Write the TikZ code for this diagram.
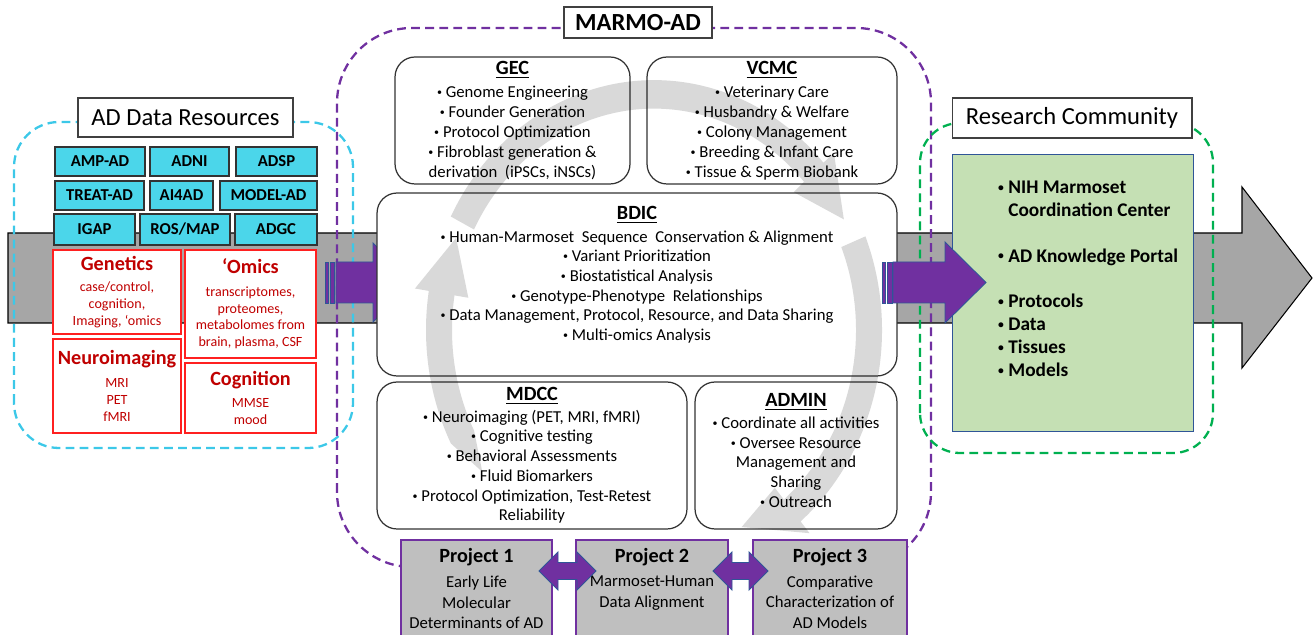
\documentclass[tikz,border=0pt]{standalone}
\usepackage{fontspec}
\usepackage{graphicx}
\setmainfont{Carlito}
\usetikzlibrary{positioning}
\definecolor{bandgray}{HTML}{A6A6A6}
\definecolor{cyclegray}{HTML}{D9D9D9}
\definecolor{adcyan}{HTML}{4BD6EA}
\definecolor{dashcyan}{HTML}{3CC8E8}
\definecolor{adred}{HTML}{FF2020}
\definecolor{txtred}{HTML}{C00000}
\definecolor{marmopurple}{HTML}{7030A0}
\definecolor{arrowblue}{HTML}{2F5597}
\definecolor{dashgreen}{HTML}{00B050}
\definecolor{portalgreen}{HTML}{C5E0B4}
\definecolor{projgray}{HTML}{BFBFBF}

\newcommand{\itm}{\raisebox{0.12em}{\scalebox{0.6}{\textbullet}}\ }
% one arrow of the gray cycle: start angle, head base, tip angle, tip radius
\newcommand{\cyclearc}[4]{%
  \fill[cyclegray] (#1:228) arc[start angle=#1, end angle=#2, radius=228]
    -- (#2:242) -- (#3:#4) -- (#2:188) -- (#2:202)
    arc[start angle=#2, end angle=#1, radius=202] -- cycle;}

\begin{document}
\begin{tikzpicture}[x=0.02cm,y=0.02cm,
    titlebox/.style={draw=black!75, fill=white, line width=0.6pt, inner sep=0pt, font=\fontsize{14}{16}\selectfont},
    resbox/.style={draw=black!80, fill=adcyan, line width=0.6pt, inner sep=0pt, font=\fontsize{9.5}{11}\selectfont\bfseries},
    databox/.style={draw=adred, fill=white, line width=1.1pt, inner sep=0pt, align=center, text=txtred, font=\fontsize{8}{9.6}\selectfont},
    panel/.style={draw=black!80, fill=white, line width=0.7pt, rounded corners=0.4cm, inner sep=0pt, align=center, font=\fontsize{9.5}{11.4}\selectfont},
    project/.style={draw=marmopurple, fill=projgray, line width=0.8pt, inner sep=0pt},
    group/.style={line width=1.3pt, dash pattern=on 5pt off 3pt},
    purplearrow/.style={fill=marmopurple, draw=arrowblue, line width=0.5pt},
  ]
    \useasboundingbox (0,0) rectangle (1314,635);

    % gray flow band
    \filldraw[fill=bandgray, draw=black, line width=0.6pt] (8,312) -- (1242,312) -- (1242,267) -- (1312,357)
      -- (1242,448) -- (1242,402) -- (8,402) -- cycle;

    % dashed groups
    \draw[group, dashcyan, rounded corners=0.9cm] (14,187) rectangle (353,513);
    \draw[group, marmopurple, rounded corners=1.5cm] (337,68) rectangle (931,607);
    \draw[group, dashgreen, rounded corners=0.8cm] (920,182) rectangle (1213,512);

    % AD data resources
    \node[titlebox, minimum width=4.3cm, minimum height=0.78cm] (adres) at (185.5,517.5) {AD Data Resources};
    \node[resbox, minimum width=1.8cm, minimum height=0.58cm] (ampad) at (100,473.5) {AMP-AD};
    \node[resbox, minimum width=1.58cm, minimum height=0.58cm] (adni) at (189.5,473.5) {ADNI};
    \node[resbox, minimum width=1.62cm, minimum height=0.58cm] (adsp) at (276.5,473.5) {ADSP};
    \node[resbox, minimum width=1.78cm, minimum height=0.58cm] (treatad) at (99.5,439.5) {TREAT-AD};
    \node[resbox, minimum width=1.26cm, minimum height=0.58cm] (aifourad) at (181.5,439.5) {AI4AD};
    \node[resbox, minimum width=1.94cm, minimum height=0.58cm] (modelad) at (268.5,439.5) {MODEL-AD};
    \node[resbox, minimum width=1.62cm, minimum height=0.62cm] (igap) at (94.5,405.5) {IGAP};
    \node[resbox, minimum width=1.8cm, minimum height=0.62cm] (rosmap) at (185,405.5) {ROS/MAP};
    \node[resbox, minimum width=1.64cm, minimum height=0.62cm] (adgc) at (276,405.5) {ADGC};

    \node[databox, minimum width=2.56cm, minimum height=1.68cm] (genetics) at (117,343)
      {{\fontsize{11.5}{13}\selectfont\bfseries Genetics}\\[2.6pt]case/control,\\cognition,\\Imaging, ‘omics};
    \node[databox, minimum width=2.62cm, minimum height=2.16cm] (omics) at (250.5,331)
      {{\fontsize{11.5}{13}\selectfont\bfseries ‘Omics}\\[3.2pt]transcriptomes,\\proteomes,\\metabolomes from\\brain, plasma, CSF};
    \node[databox, minimum width=2.56cm, minimum height=1.88cm] (neuro) at (117,249)
      {{\fontsize{11.5}{13}\selectfont\bfseries Neuroimaging}\\[3.2pt]MRI\\PET\\fMRI};
    \node[databox, minimum width=2.62cm, minimum height=1.4cm] (cognition) at (250.5,237)
      {{\fontsize{11.5}{13}\selectfont\bfseries Cognition}\\[2.6pt]MMSE\\mood};

    % striped arrows into and out of MARMO-AD
    \filldraw[purplearrow] (325,332) rectangle (328,373);
    \filldraw[purplearrow] (330,332) rectangle (334,373);
    \filldraw[purplearrow] (336,332) -- (373,332) -- (373,313) -- (413,352.5) -- (373,392) -- (373,373) -- (336,373) -- cycle;

    % MARMO-AD cores
    \node[titlebox, font=\fontsize{14}{16}\selectfont\bfseries, minimum width=2.96cm, minimum height=0.62cm] (marmo) at (638,612.5) {MARMO-AD};
    \node[panel, minimum width=4.7cm, minimum height=2.54cm] (gec) at (512.5,514.5) {};
    \node[panel, minimum width=5cm, minimum height=2.54cm] (vcmc) at (772,514.5) {};
    \node[panel, minimum width=10.4cm, minimum height=3.66cm] (bdic) at (637,350.5) {};
    \node[panel, minimum width=6.2cm, minimum height=2.94cm] (mdcc) at (532,179.5) {};
    \node[panel, minimum width=4.04cm, minimum height=2.94cm] (admin) at (796,179.5) {};

    % gray cycle behind the core texts
    \begin{scope}[shift={(654,305)}, yscale=1.096, blend mode=multiply]
      \fill[cyclegray] (217:215) -- (207:228) arc[start angle=207, end angle=171, radius=228]
        -- (171:242) -- (157:215) -- (171:188) -- (171:202)
        arc[start angle=171, end angle=207, radius=202] -- cycle;
      \cyclearc{153}{42}{28}{215}
      \cyclearc{22}{-50}{-64}{200}
    \end{scope}

    \node[align=center, font=\fontsize{9.5}{11.4}\selectfont] (gectext) at (gec)
      {{\fontsize{11.5}{13}\selectfont\bfseries\underline{GEC}}\\[1.5pt]
       \itm Genome Engineering\\ \itm Founder Generation\\ \itm Protocol Optimization\\
       \itm Fibroblast generation \&\\ derivation~~(iPSCs, iNSCs)};
    \node[align=center, font=\fontsize{9.5}{11.4}\selectfont] (vcmctext) at (vcmc)
      {{\fontsize{11.5}{13}\selectfont\bfseries\underline{VCMC}}\\[1.5pt]
       \itm Veterinary Care\\ \itm Husbandry \& Welfare\\ \itm Colony Management\\
       \itm Breeding \& Infant Care\\ \itm Tissue \& Sperm Biobank};
    \node[anchor=north, align=center, font=\fontsize{9.5}{11.2}\selectfont] (bdictext) at ([yshift=-0.16cm]bdic.north)
      {{\fontsize{11.5}{13}\selectfont\bfseries\underline{BDIC}}\\[1.5pt]
       \itm Human-Marmoset~ Sequence~ Conservation \& Alignment\\
       \itm Variant Prioritization\\ \itm Biostatistical Analysis\\
       \itm Genotype-Phenotype~ Relationships\\
       \itm Data Management, Protocol, Resource, and Data Sharing\\
       \itm Multi-omics Analysis};
    \node[align=center, font=\fontsize{9.5}{11.2}\selectfont] (mdcctext) at (mdcc)
      {{\fontsize{11.5}{13}\selectfont\bfseries\underline{MDCC}}\\[1pt]
       \itm Neuroimaging (PET, MRI, fMRI)\\ \itm Cognitive testing\\ \itm Behavioral Assessments\\
       \itm Fluid Biomarkers\\ \itm Protocol Optimization, Test-Retest\\ Reliability};
    \node[align=center, font=\fontsize{9.5}{11.2}\selectfont] (admintext) at ([yshift=0.1cm]admin.center)
      {{\fontsize{11.5}{13}\selectfont\bfseries\underline{ADMIN}}\\[1pt]
       \itm Coordinate all activities\\ \itm Oversee Resource\\ Management and\\ Sharing\\ \itm Outreach};

    % projects
    \node[project, minimum width=3.02cm, minimum height=2.1cm] (proj1) at (476.5,42.5) {};
    \node[project, minimum width=3.04cm, minimum height=2.1cm] (proj2) at (652,42.5) {};
    \node[project, minimum width=3.08cm, minimum height=2.1cm] (proj3) at (830,42.5) {};
    \foreach \p/\txt in {proj1/{Early Life\\Molecular\\Determinants of AD},
                         proj2/{Marmoset-Human\\Data Alignment},
                         proj3/{Comparative\\Characterization of\\AD Models}} {
      \node[anchor=north, align=center, font=\fontsize{9.5}{11.9}\selectfont] at ([yshift=-0.6cm]\p.north) {\txt};
    }
    \node[font=\fontsize{11.5}{13}\selectfont\bfseries] at (476.5,78) {Project 1};
    \node[font=\fontsize{11.5}{13}\selectfont\bfseries] at (652,78) {Project 2};
    \node[font=\fontsize{11.5}{13}\selectfont\bfseries] at (830,78) {Project 3};
    \filldraw[purplearrow] (539,64) -- (558,83) -- (558,72.5) -- (577,72.5) -- (577,83) -- (596,64)
      -- (577,45) -- (577,55.5) -- (558,55.5) -- (558,45) -- cycle;
    \filldraw[purplearrow] (713,64) -- (732,83) -- (732,72.5) -- (749,72.5) -- (749,83) -- (768,64)
      -- (749,45) -- (749,55.5) -- (732,55.5) -- (732,45) -- cycle;

    % research community
    \node[titlebox, minimum width=4.8cm, minimum height=0.8cm] (research) at (1072,517) {Research Community};
    \node[draw=arrowblue, fill=portalgreen, line width=0.5pt, minimum width=4.82cm, minimum height=5.54cm] (portal) at (1072.5,342.5) {};
    \filldraw[purplearrow] (882,332) rectangle (885,373);
    \filldraw[purplearrow] (887,332) rectangle (892,373);
    \filldraw[purplearrow] (893,332) -- (945,332) -- (945,312) -- (986,352.5) -- (945,393) -- (945,373) -- (893,373) -- cycle;
    \node[anchor=north west, align=left, font=\fontsize{11}{13}\selectfont\bfseries] (portaltext) at (992,460)
      {\itm NIH Marmoset\\ \hphantom{\itm}Coordination Center\\[13pt]
       \itm AD Knowledge Portal\\[13pt]
       \itm Protocols\\ \itm Data\\ \itm Tissues\\ \itm Models};
\end{tikzpicture}
\end{document}
